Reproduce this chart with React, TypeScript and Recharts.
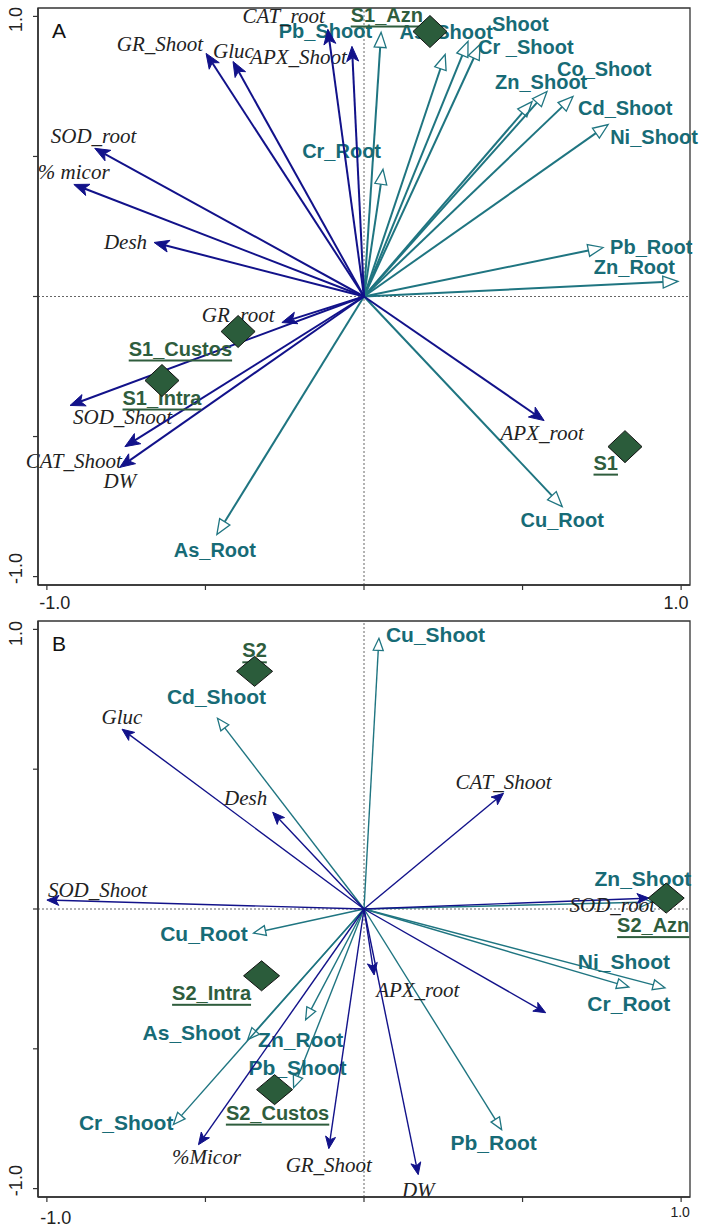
import React from "react";
import { ScatterChart, Scatter, XAxis, YAxis, ReferenceLine, ReferenceArea } from "recharts";

type Anchor = "start" | "middle" | "end";
type Pos = [number, number, Anchor];

// ---------- panel A data ----------
const aEnzymeNames = ["GR_Shoot", "Gluc", "APX_Shoot", "CAT_root", "SOD_root", "% micor", "Desh", "GR_root", "SOD_Shoot", "CAT_Shoot", "DW", "APX_root"];
const aEnzymeX = [-0.498, -0.413, -0.038, -0.114, -0.849, -0.915, -0.662, -0.259, -0.927, -0.754, -0.77, 0.568];
const aEnzymeY = [0.868, 0.839, 0.893, 0.954, 0.529, 0.4, 0.193, -0.093, -0.389, -0.536, -0.61, -0.443];

const aMetalNames = ["Pb_Shoot", "As_Shoot", "Shoot", "Cr _Shoot", "Zn_Shoot", "Co_Shoot", "Cd_Shoot", "Ni_Shoot", "Pb_Root", "Zn_Root", "Cr_Root", "Cu_Root", "As_Root"];
const aMetalX = [0.054, 0.256, 0.328, 0.366, 0.53, 0.577, 0.659, 0.77, 0.754, 0.99, 0.06, 0.625, -0.464];
const aMetalY = [0.943, 0.864, 0.911, 0.9, 0.696, 0.732, 0.714, 0.614, 0.175, 0.054, 0.454, -0.75, -0.85];

const aSampleNames = ["S1_Azn", "S1_Custos", "S1_Intra", "S1"];
const aSampleX = [0.208, -0.397, -0.637, 0.823];
const aSampleY = [0.946, -0.125, -0.3, -0.536];

// ---------- panel B data ----------
const bEnzymeNames = ["Gluc", "Desh", "SOD_Shoot", "CAT_Shoot", "SOD_root", "", "APX_root", "DW", "GR_Shoot", "%Micor"];
const bEnzymeX = [-0.763, -0.288, -1.0, 0.44, 0.899, 0.573, 0.032, 0.171, -0.111, -0.522];
const bEnzymeY = [0.643, 0.346, 0.032, 0.414, 0.039, -0.371, -0.236, -0.95, -0.857, -0.843];

const bMetalNames = ["Cd_Shoot", "Cu_Shoot", "Zn_Shoot", "Ni_Shoot", "Cr_Root", "Pb_Root", "Cu_Root", "As_Shoot", "Zn_Root", "Pb_Shoot", "Cr_Shoot"];
const bMetalX = [-0.462, 0.047, 0.908, 0.949, 0.835, 0.434, -0.348, -0.367, -0.184, -0.222, -0.601];
const bMetalY = [0.682, 0.968, 0.025, -0.282, -0.279, -0.789, -0.086, -0.468, -0.396, -0.639, -0.771];

const bSampleNames = ["S2", "S2_Azn", "S2_Intra", "S2_Custos"];
const bSampleX = [-0.345, 0.953, -0.323, -0.282];
const bSampleY = [0.85, 0.039, -0.239, -0.646];

// axis ticks
const axisTicks = [-1, -0.5, 0, 0.5, 1];
const tickText: Record<string, string> = { "-1": "-1.0", "1": "1.0" };

// ---------- label placement (pixel offsets from the arrow tip / marker) ----------
const aEnzymePos: Pos[] = [
  [-3, -9, "end"], [-20, -10, "start"], [-5, 11, "end"], [-3, -13, "end"], [-44, -12, "start"], [-36, -12, "start"],
  [-7, 0, "end"], [-80, -8, "start"], [3, 12, "start"], [-3, 14, "end"], [0, 14, "middle"], [-2, 12, "middle"],
];
const aMetalPos: Pos[] = [
  [-9, -1, "end"], [1, -22, "middle"], [24, -17, "start"], [-2, 3, "start"], [-37, -20, "start"], [10, -22, "start"],
  [5, 11, "start"], [2, 12, "start"], [7, 0, "start"], [-3, -14, "end"], [-2, -18, "end"], [0, 13, "middle"], [-2, 15, "middle"],
];
const aSamplePos: Pos[] = [[-7, -17, "end"], [-6, 17, "end"], [0, 17, "middle"], [-7, 16, "end"]];

const bEnzymePos: Pos[] = [
  [0, -12, "middle"], [-27, -14, "middle"], [1, -10, "start"], [0, -11, "middle"], [6, 7, "end"], [0, 0, "middle"],
  [2, 15, "start"], [0, 15, "middle"], [0, 16, "middle"], [8, 12, "middle"],
];
const bMetalPos: Pos[] = [
  [-1, -22, "middle"], [7, -4, "start"], [-9, -24, "middle"], [-41, -26, "middle"], [0, 16, "middle"], [-8, 13, "middle"],
  [-6, 0, "end"], [-7, -7, "end"], [-5, 20, "middle"], [4, -20, "middle"], [0, -2, "end"],
];
const bSamplePos: Pos[] = [[0, -21, "middle"], [-13, 27, "middle"], [-50, 17, "middle"], [3, 23, "middle"]];

const NAVY = "#12128a";
const TEAL = "#1f7581";
const TEAL_TEXT = "#176b76";
const GREEN = "#2b5c3b";
const GREEN_TEXT = "#2f5d3d";
const SERIF = '"Liberation Serif", "Times New Roman", serif';
const SANS = '"Liberation Sans", Arial, sans-serif';
const DX: [number, number] = [-1.028, 1.028];
const DY: [number, number] = [-1.03, 1.03];

type Style = { width: number; head: number; headW: number; italic: number; bold: number; sample: number; dw: number; dh: number };

function arrow(label: string, pos: Pos, open: boolean, st: Style) {
  const color = open ? TEAL : NAVY;
  return (p: any) => {
    const { x1, y1, x2, y2 } = p;
    const a = Math.atan2(y2 - y1, x2 - x1);
    const c = Math.cos(a);
    const s = Math.sin(a);
    const bx = x2 - st.head * c;
    const by = y2 - st.head * s;
    const nx = -s * st.headW;
    const ny = c * st.headW;
    const kx = x2 - st.head * 0.75 * c;
    const ky = y2 - st.head * 0.75 * s;
    const pts = open
      ? `${x2},${y2} ${bx + nx},${by + ny} ${bx - nx},${by - ny}`
      : `${x2},${y2} ${bx + nx},${by + ny} ${kx},${ky} ${bx - nx},${by - ny}`;
    return (
      <g>
        <line x1={x1} y1={y1} x2={open ? bx : kx} y2={open ? by : ky} stroke={color} strokeWidth={st.width} />
        <polygon points={pts} fill={open ? "#fff" : color} stroke={color} strokeWidth={open ? 1.3 : 1} />
        {label ? (
          <text
            x={x2 + pos[0]}
            y={y2 + pos[1]}
            textAnchor={pos[2]}
            dominantBaseline="central"
            fontFamily={open ? SANS : SERIF}
            fontStyle={open ? "normal" : "italic"}
            fontWeight={open ? 700 : 400}
            fontSize={open ? st.bold : st.italic}
            fill={open ? TEAL_TEXT : "#222"}
          >
            {label}
          </text>
        ) : null}
      </g>
    );
  };
}

function sampleShape(pos: Pos[], st: Style) {
  return (p: any) => {
    const { cx, cy, payload } = p;
    const lp = pos[payload.i];
    return (
      <g>
        <text
          x={cx + lp[0]}
          y={cy + lp[1]}
          textAnchor={lp[2]}
          dominantBaseline="central"
          fontFamily={SANS}
          fontWeight={700}
          fontSize={st.sample}
          fill={GREEN_TEXT}
          textDecoration="underline"
        >
          {payload.name}
        </text>
        <polygon
          points={`${cx},${cy - st.dh} ${cx + st.dw},${cy} ${cx},${cy + st.dh} ${cx - st.dw},${cy}`}
          fill={GREEN}
          stroke="#111"
          strokeWidth={1}
        />
      </g>
    );
  };
}

type PanelCfg = {
  letter: string;
  offset: number;
  height: number;
  top: number;
  bottom: number;
  enzNames: string[]; enzX: number[]; enzY: number[]; enzPos: Pos[];
  metNames: string[]; metX: number[]; metY: number[]; metPos: Pos[];
  smpNames: string[]; smpX: number[]; smpY: number[]; smpPos: Pos[];
  st: Style;
  xLab: { dy: number[]; dx: number[]; fs: number[] };
  yLab: { dy: number[] };
};

function Panel({ cfg }: { cfg: PanelCfg }) {
  const samples = cfg.smpNames.map((n, i) => ({ name: n, x: cfg.smpX[i], y: cfg.smpY[i], i }));
  const xTick = (p: any) => {
    const v = p.payload.value;
    if (v !== -1 && v !== 1) return <g />;
    const k = v === -1 ? 0 : 1;
    return (
      <text x={p.x + cfg.xLab.dx[k]} y={p.y + cfg.xLab.dy[k]} textAnchor="middle" dominantBaseline="central" fontFamily={SANS} fontSize={cfg.xLab.fs[k]} fill="#222">
        {tickText[String(v)]}
      </text>
    );
  };
  const yTick = (p: any) => {
    const v = p.payload.value;
    if (v !== -1 && v !== 1) return <g />;
    const k = v === -1 ? 0 : 1;
    const cx = p.x - 15;
    const cy = p.y + cfg.yLab.dy[k];
    return (
      <text x={cx} y={cy} transform={`rotate(-90, ${cx}, ${cy})`} textAnchor="middle" dominantBaseline="central" fontFamily={SANS} fontSize={18} fill="#222">
        {tickText[String(v)]}
      </text>
    );
  };
  return (
    <div style={{ position: "absolute", left: 0, top: cfg.offset, width: 708, height: cfg.height }}>
      <ScatterChart width={708} height={cfg.height} margin={{ top: cfg.top, right: 18, bottom: cfg.bottom, left: 0 }}>
        <XAxis
          type="number"
          dataKey="x"
          domain={DX}
          allowDataOverflow
          ticks={axisTicks}
          interval={0}
          height={25}
          tickSize={5}
          axisLine={{ stroke: "#333", strokeWidth: 1.6 }}
          tickLine={{ stroke: "#333", strokeWidth: 1.2 }}
          tick={xTick}
        />
        <YAxis
          type="number"
          dataKey="y"
          domain={DY}
          allowDataOverflow
          ticks={axisTicks}
          interval={0}
          width={38}
          tickSize={5}
          axisLine={{ stroke: "#333", strokeWidth: 1.6 }}
          tickLine={{ stroke: "#333", strokeWidth: 1.2 }}
          tick={yTick}
        />
        <ReferenceArea x1={DX[0]} x2={DX[1]} y1={DY[0]} y2={DY[1]} fill="none" stroke="#333" strokeWidth={1.3} ifOverflow="visible" />
        <ReferenceLine x={0} stroke="#666" strokeDasharray="2 2" strokeWidth={1} />
        <ReferenceLine y={0} stroke="#666" strokeDasharray="2 2" strokeWidth={1} />
        {cfg.metNames.map((n, i) => (
          <ReferenceLine
            key={"m" + i}
            segment={[{ x: 0, y: 0 }, { x: cfg.metX[i], y: cfg.metY[i] }]}
            stroke={TEAL}
            shape={arrow(n, cfg.metPos[i], true, cfg.st)}
          />
        ))}
        {cfg.enzNames.map((n, i) => (
          <ReferenceLine
            key={"e" + i}
            segment={[{ x: 0, y: 0 }, { x: cfg.enzX[i], y: cfg.enzY[i] }]}
            stroke={NAVY}
            shape={arrow(n, cfg.enzPos[i], false, cfg.st)}
          />
        ))}
        <Scatter data={samples} isAnimationActive={false} shape={sampleShape(cfg.smpPos, cfg.st)} />
      </ScatterChart>
      <div style={{ position: "absolute", left: 52, top: cfg.top + 12, fontFamily: SANS, fontSize: 21, lineHeight: "21px", color: "#111" }}>
        {cfg.letter}
      </div>
    </div>
  );
}

const panelA: PanelCfg = {
  letter: "A",
  offset: 0,
  height: 625,
  top: 8,
  bottom: 15,
  enzNames: aEnzymeNames, enzX: aEnzymeX, enzY: aEnzymeY, enzPos: aEnzymePos,
  metNames: aMetalNames, metX: aMetalX, metY: aMetalY, metPos: aMetalPos,
  smpNames: aSampleNames, smpX: aSampleX, smpY: aSampleY, smpPos: aSamplePos,
  st: { width: 2, head: 15, headW: 6, italic: 21, bold: 20, sample: 20, dw: 17, dh: 16 },
  xLab: { dy: [11, 11], dx: [8, -5], fs: [18, 18] },
  yLab: { dy: [-8, 3] },
};

const panelB: PanelCfg = {
  letter: "B",
  offset: 610,
  height: 620,
  top: 11,
  bottom: 8,
  enzNames: bEnzymeNames, enzX: bEnzymeX, enzY: bEnzymeY, enzPos: bEnzymePos,
  metNames: bMetalNames, metX: bMetalX, metY: bMetalY, metPos: bMetalPos,
  smpNames: bSampleNames, smpX: bSampleX, smpY: bSampleY, smpPos: bSamplePos,
  st: { width: 1.4, head: 12, headW: 5, italic: 21, bold: 21, sample: 20, dw: 18, dh: 15 },
  xLab: { dy: [14, 8], dx: [9, -1], fs: [18, 14] },
  yLab: { dy: [-8, 4] },
};

export default function App() {
  return (
    <div style={{ position: "absolute", left: 0, top: 0, width: 708, height: 1230, background: "#fff" }}>
      <Panel cfg={panelA} />
      <Panel cfg={panelB} />
    </div>
  );
}
